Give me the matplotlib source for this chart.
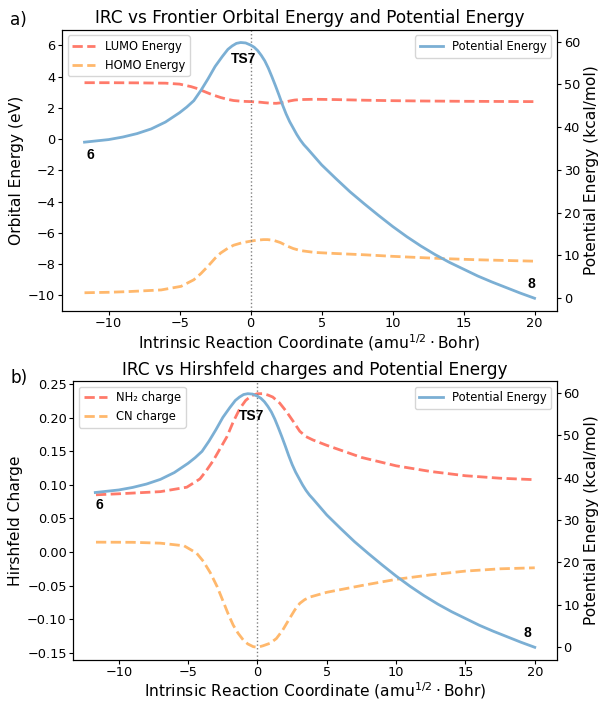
import matplotlib
matplotlib.use("Agg")
import matplotlib.pyplot as plt

# IRC coordinate (amu^1/2 Bohr) and potential energy (kcal/mol), shared by both panels
irc_pe = [-11.7, -10, -9, -8, -7, -6, -5, -4.5, -4, -3.5, -3, -2.5, -2, -1.6, -1.3, -1.0,
          -0.7, -0.35, 0, 0.25, 0.5, 0.75, 1.0, 1.25, 1.5, 1.75, 2.0, 2.25, 2.5, 2.75, 3.0,
          3.25, 3.5, 3.75, 4.0, 5, 6, 7, 8, 9, 10, 11, 12, 13, 14, 15, 16, 17, 18, 19, 20]
pe_kcal = [36.5, 37.1, 37.7, 38.5, 39.6, 41.2, 43.4, 44.7, 46.2, 48.6, 51.3, 54.2, 56.5, 58.2,
           59.0, 59.6, 59.8, 59.7, 59.2, 58.7, 57.9, 56.8, 55.5, 53.8, 51.8, 49.7, 47.5,
           45.2, 43.1, 41.3, 39.8, 38.3, 37.0, 35.9, 35.0, 31.2, 28.0, 24.9, 22.1, 19.4,
           16.8, 14.4, 12.2, 10.2, 8.4, 6.8, 5.2, 3.8, 2.5, 1.2, 0.0]

# frontier orbitals (eV)
irc_lumo = [-11.7, -10, -8, -6, -5, -4.2, -3.7, -3.3, -2.7, -2.1, -1.6, -1.2, -0.6, 0, 0.7,
            1.0, 1.4, 1.8, 2.1, 2.5, 2.8, 3.1, 3.5, 4.5, 6, 8, 10, 12, 15, 20]
lumo_ev = [3.61, 3.61, 3.60, 3.58, 3.52, 3.36, 3.22, 3.06, 2.84, 2.66, 2.54, 2.47, 2.42, 2.40,
           2.36, 2.33, 2.30, 2.29, 2.32, 2.39, 2.45, 2.50, 2.53, 2.55, 2.53, 2.49, 2.46, 2.44,
           2.42, 2.40]
irc_homo = [-11.7, -10, -8.7, -6.3, -4.9, -4.0, -3.5, -3.0, -2.5, -2.1, -1.6, -1.2, -0.6, 0,
            0.4, 0.9, 1.2, 1.6, 2.1, 2.6, 3.0, 3.5, 4.5, 6, 8, 10, 13.4, 16, 20]
homo_ev = [-9.83, -9.80, -9.76, -9.65, -9.42, -9.0, -8.6, -8.13, -7.62, -7.28, -6.98, -6.79,
           -6.63, -6.53, -6.47, -6.43, -6.43, -6.47, -6.62, -6.85, -7.0, -7.13, -7.25, -7.32,
           -7.40, -7.50, -7.64, -7.72, -7.81]

# Hirshfeld charges
irc_nh2 = [-11.65, -10, -7, -5.1, -4.15, -3.7, -3.2, -2.7, -2.2, -1.75, -1.27, -0.85, -0.43,
           0, 0.4, 0.75, 1.1, 1.6, 2.1, 2.6, 3.05, 3.5, 4.0, 5, 7.5, 10, 12.5, 15, 17.5, 20]
nh2_charge = [0.0853, 0.0868, 0.090, 0.0966, 0.109, 0.121, 0.136, 0.154, 0.172, 0.194, 0.214,
              0.226, 0.233, 0.236, 0.236, 0.234, 0.231, 0.222, 0.209, 0.194, 0.180, 0.172,
              0.167, 0.159, 0.141, 0.1285, 0.120, 0.1137, 0.110, 0.1078]
irc_cn = [-11.65, -9, -7, -5.3, -4.4, -3.9, -3.4, -2.9, -2.45, -2.1, -1.75, -1.4, -1.03, -0.7,
          -0.31, 0, 0.4, 0.9, 1.36, 1.8, 2.3, 2.7, 3.05, 3.4, 3.8, 5, 7.5, 10, 12.5, 15,
          17.5, 20]
cn_charge = [0.0147, 0.0145, 0.0132, 0.0093, -0.0015, -0.014, -0.031, -0.052, -0.075, -0.093,
             -0.109, -0.121, -0.131, -0.137, -0.141, -0.142, -0.1397, -0.136, -0.129, -0.117,
             -0.0995, -0.086, -0.0765, -0.071, -0.067, -0.060, -0.050, -0.0407, -0.034,
             -0.0284, -0.025, -0.0235]

c_lumo = "#FF7A6A"
c_homo = "#FFB86C"
c_pe = "#7BAFD4"
xlabel = r"Intrinsic Reaction Coordinate (amu$^{1/2}\cdot$Bohr)"

# the reference looks like a downscaled render, so pads and ticks are tighter
for k in ("xtick", "ytick"):
 plt.rcParams[k + ".labelsize"] = 9.3
 plt.rcParams[k + ".major.size"] = 2.6
plt.rcParams["xtick.major.pad"] = 1.5
plt.rcParams["ytick.major.pad"] = 2.2
plt.rcParams["axes.labelpad"] = 2.0
plt.rcParams["axes.titlepad"] = 4.5

fig = plt.figure(figsize=(5.98, 7.01), dpi=100)
ax1 = fig.add_axes([0.1037, 0.5563, 0.8278, 0.4013])
ax3 = fig.add_axes([0.1226, 0.0585, 0.8084, 0.3980])


def add_pe(ax, labels):
 ax2 = ax.twinx()
 ax2.plot(irc_pe, pe_kcal, color=c_pe, lw=2, label="Potential Energy")
 ax2.set_ylabel("Potential Energy (kcal/mol)", fontsize=11.2, labelpad=2.6)
 ax2.legend(loc="upper right", fontsize=8.3)
 for txt, (tx, ty) in labels.items():
  ax2.text(tx, ty, txt, ha="center", va="center", fontsize=10, fontweight="bold",
           family="Liberation Sans")
 return ax2


# a) orbital energies
ax1.plot(irc_lumo, lumo_ev, "--", color=c_lumo, lw=2, label="LUMO Energy")
ax1.plot(irc_homo, homo_ev, "--", color=c_homo, lw=2, label="HOMO Energy")
ax1.axvline(0, color="gray", ls=":", lw=1)
ax1.set_ylim(-11, 7)
ax1.set_ylabel("Orbital Energy (eV)", fontsize=11.2, labelpad=2.6)
ax1.set_xlabel(xlabel, fontsize=11.2)
ax1.set_title("IRC vs Frontier Orbital Energy and Potential Energy", fontsize=12.2)
ax1.legend(loc="upper left", fontsize=8.3)
add_pe(ax1, {"6": (-11.27, 33.4), "TS7": (-0.5, 55.9), "8": (19.75, 3.4)})

# b) Hirshfeld charges
ax3.plot(irc_nh2, nh2_charge, "--", color=c_lumo, lw=2, label="NH\u2082 charge")
ax3.plot(irc_cn, cn_charge, "--", color=c_homo, lw=2, label="CN charge")
ax3.axvline(0, color="gray", ls=":", lw=1)
ax3.set_ylabel("Hirshfeld Charge", fontsize=11.2, labelpad=2.6)
ax3.set_xlabel(xlabel, fontsize=11.2, labelpad=1.2)
ax3.set_title("IRC vs Hirshfeld charges and Potential Energy", fontsize=12.2)
ax3.legend(loc="upper left", fontsize=8.3)
add_pe(ax3, {"6": (-11.4, 33.6), "TS7": (-0.4, 54.5), "8": (19.5, 3.3)})

fig.text(0.017, 0.971, "a)", fontsize=12.2, va="center")
fig.text(0.017, 0.461, "b)", fontsize=12.2, va="center")

fig.savefig("out.png", dpi=100)
